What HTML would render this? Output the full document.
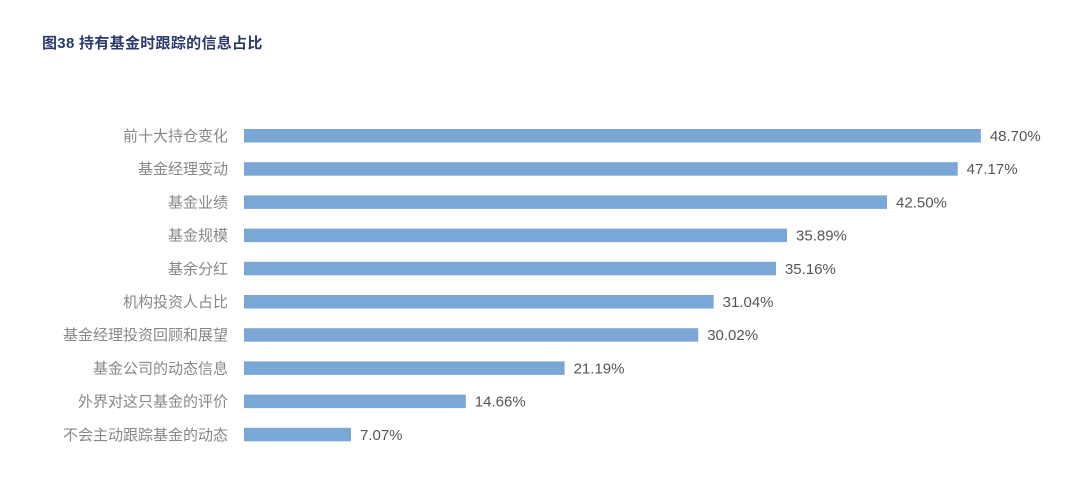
<!DOCTYPE html>
<html><head><meta charset="utf-8"><style>
body{margin:0;background:#fff;width:1080px;height:477px;overflow:hidden;font-family:"Liberation Sans","Noto Sans CJK SC",sans-serif;}
#title{position:absolute;left:42px;top:32px;font-size:15px;font-weight:bold;color:#2b3a6e;letter-spacing:0.3px;}
svg{position:absolute;left:0;top:0;}
</style></head><body>
<div id="title">图38 持有基金时跟踪的信息占比</div>
<svg id="chart" width="1080" height="477"></svg>
<script>
const categories=["前十大持仓变化","基金经理变动","基金业绩","基金规模","基余分红","机构投资人占比","基金经理投资回顾和展望","基金公司的动态信息","外界对这只基金的评价","不会主动跟踪基金的动态"];
const values=[48.70,47.17,42.50,35.89,35.16,31.04,30.02,21.19,14.66,7.07];
const valueLabels=["48.70%","47.17%","42.50%","35.89%","35.16%","31.04%","30.02%","21.19%","14.66%","7.07%"];
const NS="http://www.w3.org/2000/svg";
const svg=document.getElementById('chart');
const x0=244,pxPer=15.13;
function xScale(v){return x0+v*pxPer;}
function yScale(i){return 129+i*33.2;}
categories.forEach((c,i)=>{
  const y=yScale(i);
  const r=document.createElementNS(NS,'rect');
  
  
  r.setAttribute('x',x0);r.setAttribute('y',y);
  r.setAttribute('width',xScale(values[i])-x0);r.setAttribute('height',13.5);
  r.setAttribute('fill','#7aa7d6');svg.appendChild(r);
  const t=document.createElementNS(NS,'text');
  
  
  t.setAttribute('x',228);t.setAttribute('y',y+12);t.setAttribute('text-anchor','end');
  t.setAttribute('font-size','15');t.setAttribute('fill','#888');t.textContent=c;svg.appendChild(t);
  const v=document.createElementNS(NS,'text');
  
  
  v.setAttribute('x',xScale(values[i])+9);v.setAttribute('y',y+12);
  v.setAttribute('font-size','15');v.setAttribute('fill','#555');v.textContent=valueLabels[i];svg.appendChild(v);
});
</script>
</body></html>
